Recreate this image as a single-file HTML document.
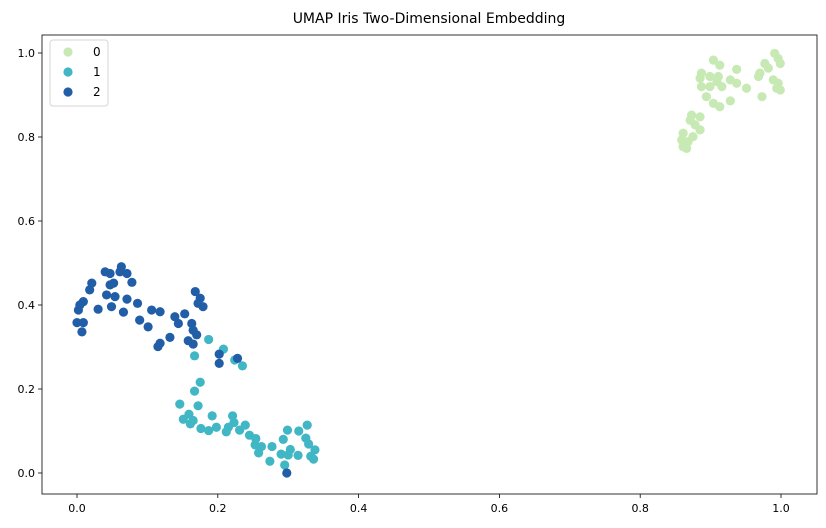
<!DOCTYPE html>
<html><head><meta charset="utf-8"><style>
html,body{margin:0;padding:0;background:#fff;}
svg{display:block;font-family:"DejaVu Sans","Liberation Sans",sans-serif;}
</style></head><body>
<svg id="chart" width="826" height="528">
<text x="429" y="23" font-size="14" text-anchor="middle" fill="#000">UMAP Iris Two-Dimensional Embedding</text>
<g id="marks"></g>
<g id="axes"></g>
</svg>
<script>
const x0 = [0.904,0.913,0.937,0.991,0.996,0.999,0.977,0.982,0.970,0.968,0.887,0.885,0.899,0.911,0.909,0.916,0.928,0.937,0.951,0.899,0.887,0.894,0.904,0.913,0.928,0.973,0.989,0.996,0.999,0.994,0.873,0.885,0.871,0.878,0.885,0.861,0.875,0.859,0.868,0.861,0.866];
const y0 = [0.983,0.971,0.961,0.999,0.987,0.975,0.975,0.964,0.952,0.944,0.952,0.940,0.944,0.944,0.932,0.920,0.936,0.928,0.916,0.920,0.920,0.896,0.880,0.872,0.886,0.896,0.936,0.928,0.912,0.916,0.852,0.848,0.840,0.829,0.817,0.809,0.801,0.793,0.789,0.777,0.773];
const x1 = [0.187,0.208,0.224,0.235,0.167,0.175,0.167,0.146,0.172,0.159,0.151,0.161,0.165,0.176,0.187,0.198,0.192,0.221,0.223,0.215,0.212,0.231,0.239,0.245,0.254,0.253,0.262,0.258,0.277,0.274,0.290,0.303,0.300,0.295,0.314,0.293,0.299,0.315,0.327,0.325,0.329,0.338,0.332,0.336];
const y1 = [0.318,0.295,0.269,0.255,0.279,0.216,0.195,0.164,0.160,0.140,0.128,0.117,0.125,0.106,0.101,0.109,0.136,0.136,0.120,0.109,0.098,0.102,0.114,0.090,0.082,0.067,0.063,0.048,0.063,0.028,0.045,0.056,0.043,0.019,0.042,0.080,0.102,0.100,0.114,0.083,0.069,0.055,0.040,0.033];
const x2 = [0.040,0.047,0.063,0.061,0.071,0.078,0.021,0.018,0.047,0.052,0.042,0.054,0.049,0.071,0.086,0.009,0.004,0.002,0.030,0.066,0.000,0.009,0.007,0.089,0.101,0.106,0.118,0.139,0.144,0.153,0.132,0.118,0.115,0.168,0.175,0.172,0.179,0.163,0.165,0.170,0.158,0.165,0.202,0.202,0.228,0.298];
const y2 = [0.479,0.475,0.491,0.479,0.475,0.454,0.452,0.436,0.448,0.452,0.424,0.420,0.396,0.414,0.404,0.408,0.400,0.388,0.390,0.383,0.358,0.358,0.336,0.364,0.348,0.388,0.384,0.372,0.356,0.379,0.323,0.309,0.301,0.432,0.416,0.404,0.396,0.356,0.340,0.329,0.315,0.307,0.283,0.261,0.273,0.000];
const xTicks = [0.0,0.2,0.4,0.6,0.8,1.0];
const yTicks = [0.0,0.2,0.4,0.6,0.8,1.0];
const tickLabels = ["0.0","0.2","0.4","0.6","0.8","1.0"];
const seriesNames = ["0","1","2"];
const colors = ["#c7e9b4","#41b6c4","#225ea8"];

const NS = "http://www.w3.org/2000/svg";
const L=42,R=817,T=35,B=494;
const sx = v => 77 + v*704;
const sy = v => 473 - v*420;
const marks = document.getElementById('marks');
const axes = document.getElementById('axes');
function mk(tag, attrs, parent){const e=document.createElementNS(NS,tag);for(const k in attrs)e.setAttribute(k,attrs[k]);parent.appendChild(e);return e;}

const series=[[x0,y0],[x1,y1],[x2,y2]];
series.forEach((s,si)=>{
  s[0].forEach((xv,i)=>{
    const c=mk('circle',{cx:sx(xv),cy:sy(s[1][i]),r:4.6,fill:colors[si]},marks);
    
    
  });
});

const frame=mk('rect',{x:L,y:T,width:R-L,height:B-T,fill:'none',stroke:'#000','stroke-width':0.8},axes);



xTicks.forEach((t,i)=>{
  const px=sx(t);
  const ln=mk('line',{x1:px,x2:px,y1:B,y2:B+4,stroke:'#000','stroke-width':0.8},axes);
  
  
  const tx=mk('text',{x:px,y:B+18,'font-size':11,'text-anchor':'middle',fill:'#000'},axes);
  tx.textContent=tickLabels[i];
  
  
});
yTicks.forEach((t,i)=>{
  const py=sy(t);
  const ln=mk('line',{x1:L-4,x2:L,y1:py,y2:py,stroke:'#000','stroke-width':0.8},axes);
  
  
  const tx=mk('text',{x:L-7,y:py+4,'font-size':11,'text-anchor':'end',fill:'#000'},axes);
  tx.textContent=tickLabels[i];
  
  
});

const lg=mk('g',{},axes);


mk('rect',{x:50,y:40,width:58,height:66,rx:3,fill:'#fff','fill-opacity':0.8,stroke:'#d6d6d6','stroke-width':1},lg);
seriesNames.forEach((n,i)=>{
  const g=mk('g',{},lg);
  
  
  mk('circle',{cx:68,cy:52+i*20,r:4.6,fill:colors[i]},g);
  const t=mk('text',{x:93,y:56+i*20,'font-size':12,fill:'#000'},g);
  t.textContent=n;
});
</script>
</body></html>
